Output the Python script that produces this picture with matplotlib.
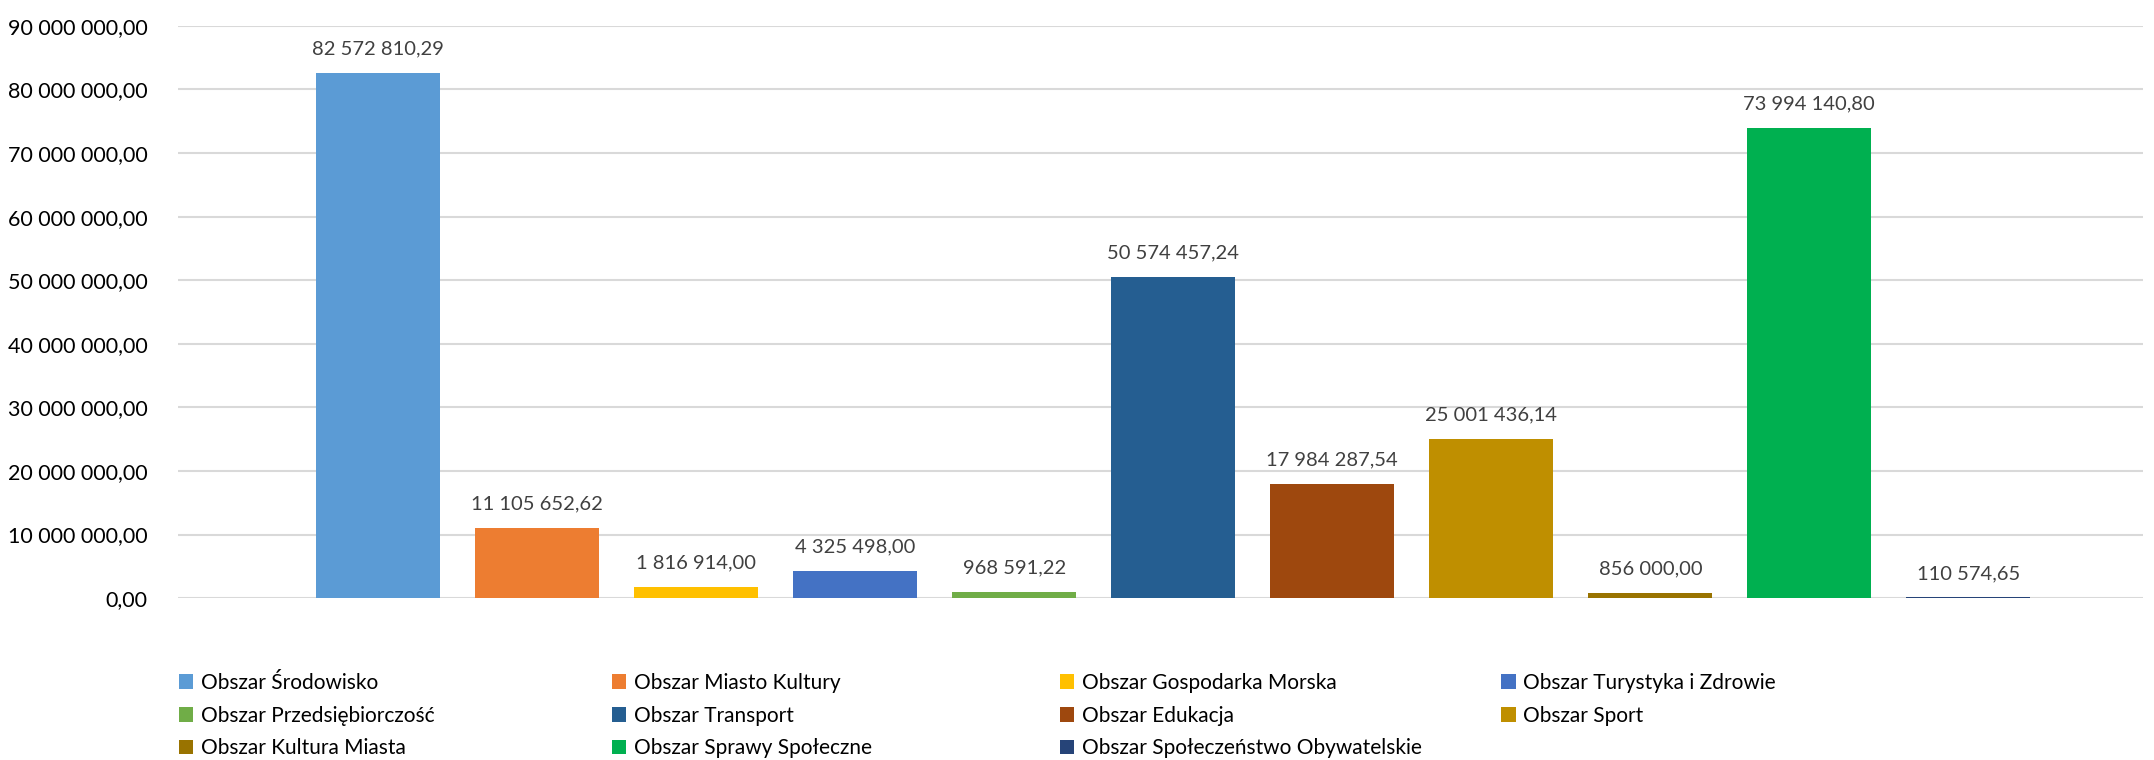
import matplotlib.pyplot as plt
from matplotlib.patches import Patch

plt.rcParams['font.family'] = ['Lato', 'DejaVu Sans']

# dane
obszary = ["Obszar Środowisko", "Obszar Miasto Kultury", "Obszar Gospodarka Morska",
           "Obszar Turystyka i Zdrowie", "Obszar Przedsiębiorczość", "Obszar Transport",
           "Obszar Edukacja", "Obszar Sport", "Obszar Kultura Miasta",
           "Obszar Sprawy Społeczne", "Obszar Społeczeństwo Obywatelskie"]
kwoty = [82572810.29, 11105652.62, 1816914.00, 4325498.00, 968591.22, 50574457.24,
         17984287.54, 25001436.14, 856000.00, 73994140.80, 110574.65]
kolory = ["#5B9BD5", "#ED7D31", "#FFC000", "#4472C4", "#70AD47", "#255E91",
          "#9E480E", "#BF8F00", "#997300", "#00B050", "#264478"]


def pl_format(v):
    s = f"{v:,.2f}"
    return s.replace(",", " ").replace(".", ",")


fig = plt.figure(figsize=(21.54, 7.6), dpi=100)
ax = fig.add_axes([0.0826, 0.213, 0.9124, 0.753])

x = list(range(len(kwoty)))
bars = ax.bar(x, kwoty, width=0.78, color=kolory, zorder=3)

for xi, v in zip(x, kwoty):
    ax.annotate(pl_format(v), (xi, v), xytext=(0, 11), textcoords="offset points",
                ha="center", va="bottom", fontsize=14.5, color="#404040")

ax.set_xlim(-1.26, 11.1)
ax.set_ylim(0, 90000000)
ax.set_yticks(range(0, 90000001, 10000000))
ax.set_yticklabels([pl_format(t) for t in range(0, 90000001, 10000000)], fontsize=15.5)
ax.yaxis.grid(True, color="#D9D9D9", linewidth=1.5, zorder=0)
ax.set_xticks([])
ax.tick_params(axis="y", length=0, pad=22)
for s in ax.spines.values():
    s.set_visible(False)

# legenda w 4 kolumnach, wypelniana wierszami
kol_x = [0.083, 0.284, 0.492, 0.697]
for c in range(4):
    idx = list(range(c, len(obszary), 4))
    handles = [Patch(facecolor=kolory[i], label=obszary[i]) for i in idx]
    leg = fig.legend(handles=handles, loc="upper left", bbox_to_anchor=(kol_x[c], 0.115),
                     frameon=False, fontsize=15, handlelength=0.7, handleheight=0.7,
                     handletextpad=0.35, labelspacing=0.62, borderaxespad=0, borderpad=0)

fig.savefig("out.png", dpi=100)
